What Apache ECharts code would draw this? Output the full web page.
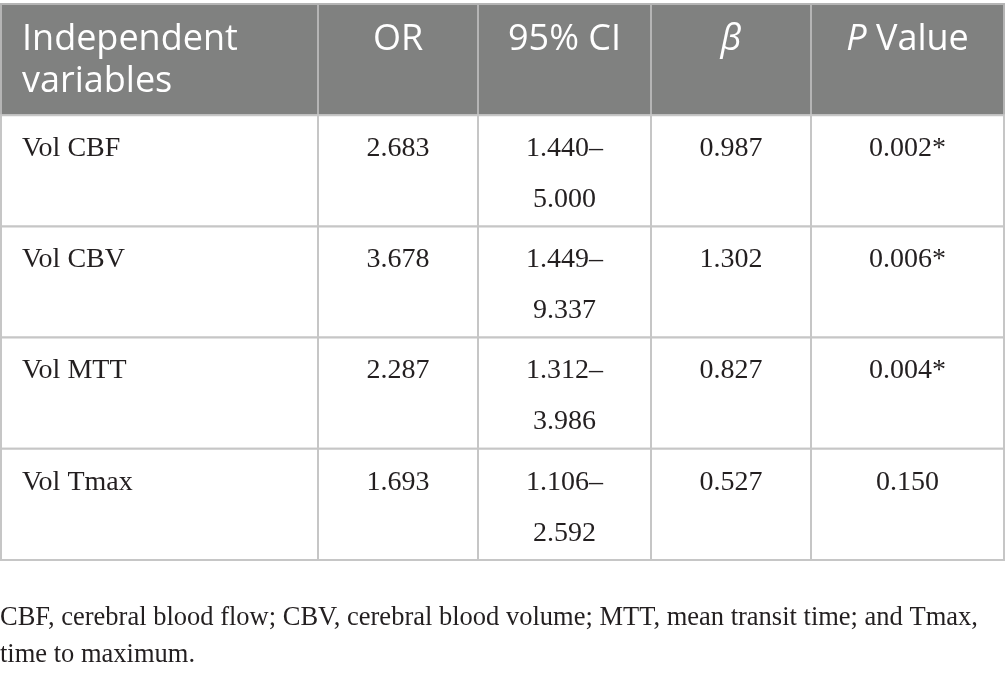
<!DOCTYPE html>
<html>
<head>
<meta charset="utf-8">
<script src="https://cdn.jsdelivr.net/npm/echarts@6/dist/echarts.min.js"></script>
<style>
  html, body { margin: 0; padding: 0; background: #fff; }
  #chart { width: 1005px; height: 675px; }
</style>
</head>
<body>
<div id="chart"></div>
<script>
// table content
const headers = ['Independent\nvariables', 'OR', '95% CI', '{i|β}', '{i|P} Value'];
const variables = ['Vol CBF', 'Vol CBV', 'Vol MTT', 'Vol Tmax'];
const orValues = [2.683, 3.678, 2.287, 1.693];
const ciLow = [1.440, 1.449, 1.312, 1.106];
const ciHigh = [5.000, 9.337, 3.986, 2.592];
const betaValues = [0.987, 1.302, 0.827, 0.527];
const pValues = [0.002, 0.006, 0.004, 0.150];
const footnoteLines = [
  'CBF, cerebral blood flow; CBV, cerebral blood volume; MTT, mean transit time; and Tmax,',
  'time to maximum.'
];

// layout: column edges in x-axis units
const colEdges = [1, 318, 478, 651, 811, 1004];

const fmt = v => v.toFixed(3);
const rowTexts = variables.map((name, i) => [
  name,
  fmt(orValues[i]),
  fmt(ciLow[i]) + '–\n' + fmt(ciHigh[i]),
  fmt(betaValues[i]),
  fmt(pValues[i]) + (pValues[i] < 0.05 ? '*' : '')
]);
const allRows = [headers].concat(rowTexts);
const rowNames = ['header'].concat(variables);

const chart = echarts.init(document.getElementById('chart'));

function renderItem(params, api) {
  const row = api.value(1);
  const band = api.size([0, 1])[1];
  const top = api.coord([0, row])[1] - band / 2;
  const isHead = row === 0;
  const cells = allRows[row];
  const children = [];
  for (let j = 0; j < cells.length; j++) {
    const x0 = api.coord([colEdges[j], row])[0];
    const x1 = api.coord([colEdges[j + 1], row])[0];
    children.push({
      type: 'rect',
      shape: { x: x0, y: top, width: x1 - x0, height: band },
      style: {
        fill: isHead ? '#808180' : '#ffffff',
        stroke: isHead ? '#b5b5b5' : '#c6c6c6',
        lineWidth: 2
      }
    });
  }
  for (let j = 0; j < cells.length; j++) {
    const x0 = api.coord([colEdges[j], row])[0];
    const x1 = api.coord([colEdges[j + 1], row])[0];
    const left = j === 0;
    const fontSize = isHead ? 36 : 28;
    const lineHeight = isHead ? 42 : 51;
    const family = isHead ? '"Open Sans", sans-serif' : '"Liberation Serif", serif';
    const color = isHead ? '#ffffff' : '#231f20';
    children.push({
      type: 'text',
      style: {
        text: cells[j],
        x: left ? x0 + 21 : (x0 + x1) / 2,
        y: top + (isHead ? 15 : 8),
        align: left ? 'left' : 'center',
        verticalAlign: 'top',
        fontSize: fontSize,
        fontFamily: family,
        lineHeight: lineHeight,
        fill: color,
        rich: {
          i: {
            fontStyle: 'italic',
            fontSize: fontSize,
            fontFamily: family,
            lineHeight: lineHeight,
            fill: color
          }
        }
      }
    });
  }
  return { type: 'group', children: children };
}

const option = {
  animation: false,
  grid: { left: 0, right: 0, top: 4, height: 556 },
  xAxis: { type: 'value', min: 0, max: 1005, show: false },
  yAxis: { type: 'category', data: rowNames, inverse: true, show: false },
  series: [{
    type: 'custom',
    renderItem: renderItem,
    clip: false,
    data: rowNames.map((r, i) => [0, i])
  }],
  graphic: [{
    type: 'text',
    left: 0,
    top: 600,
    style: {
      text: footnoteLines.join('\n'),
      fontSize: 26.5,
      fontFamily: '"Liberation Serif", serif',
      lineHeight: 37,
      fill: '#231f20'
    }
  }]
};

chart.setOption(option);
</script>
</body>
</html>
